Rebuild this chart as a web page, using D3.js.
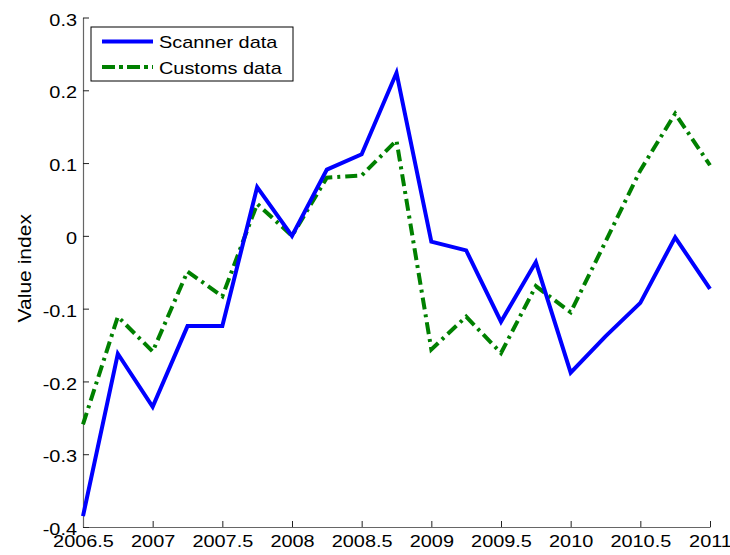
<!DOCTYPE html>
<html>
<head>
<meta charset="utf-8">
<script src="https://cdn.jsdelivr.net/npm/d3@7"></script>
<style>
  body { margin: 0; background: #fff; }
  text { font-family: "Liberation Sans", Arial, sans-serif; fill: #000; }
</style>
</head>
<body>
<div id="chart"></div>
<script>
// quarterly observations
var quarters = [2006.5, 2006.75, 2007, 2007.25, 2007.5, 2007.75, 2008, 2008.25, 2008.5,
    2008.75, 2009, 2009.25, 2009.5, 2009.75, 2010, 2010.25, 2010.5, 2010.75, 2011];
var scanner = [-0.385, -0.162, -0.235, -0.124, -0.124, 0.067, 0.0, 0.091, 0.112,
    0.224, -0.008, -0.020, -0.118, -0.036, -0.188, -0.138, -0.092, -0.002, -0.073];
var customs = [-0.259, -0.111, -0.159, -0.049, -0.083, 0.044, 0.0, 0.080, 0.083,
    0.131, -0.156, -0.111, -0.161, -0.069, -0.105, -0.008, 0.090, 0.168, 0.097];
var xTicks = [2006.5, 2007, 2007.5, 2008, 2008.5, 2009, 2009.5, 2010, 2010.5, 2011];
var yTicks = [-0.4, -0.3, -0.2, -0.1, 0, 0.1, 0.2, 0.3];
var seriesNames = ["Scanner data", "Customs data"];

var W = 730, H = 555;
var margin = {left: 83, right: 20, top: 17.5, bottom: 28};
var stretch = 1.17;   // matlab export text looks wider than Arial

var svg = d3.select("#chart").append("svg")
    .attr("width", W)
    .attr("height", H);

var x = d3.scaleLinear().domain([2006.5, 2011]).range([margin.left, W - margin.right]);
var y = d3.scaleLinear().domain([-0.4, 0.3]).range([H - margin.bottom, margin.top]);

var fmtY = function(d) { return d === 0 ? "0" : d3.format(".1f")(d).replace("\u2212", "-"); };

// axes, ticks pointing inward like matlab
var xAxis = svg.append("g")
    .attr("transform", "translate(0," + y(-0.4) + ")")
    .call(d3.axisBottom(x).tickValues(xTicks).tickSize(-6).tickSizeOuter(0).tickPadding(8)
        .tickFormat(function(d) { return String(d); }));
var yAxis = svg.append("g")
    .attr("transform", "translate(" + x(2006.5) + ",0)")
    .call(d3.axisLeft(y).tickValues(yTicks).tickSize(-6).tickSizeOuter(0).tickPadding(6)
        .tickFormat(fmtY));

[xAxis, yAxis].forEach(function(g) {
    g.select(".domain").attr("stroke", "#666").attr("stroke-width", 1.2);
    g.selectAll(".tick line").attr("stroke", "#222");
    g.selectAll(".tick text")
        .style("font-size", "17px")
        .attr("fill", "#000")
        .attr("transform", "scale(" + stretch + ",1)");
});
yAxis.selectAll(".tick text").attr("x", -6 / stretch).attr("dy", "0.45em");

svg.append("text")
    .attr("transform", "translate(31," + ((y(0.3) + y(-0.4)) / 2 - 4) + ") rotate(-90) scale(" + stretch + ",1)")
    .attr("text-anchor", "middle")
    .style("font-size", "18px")
    .text("Value index");

var line = function(values) {
    return d3.line()
        .x(function(d, i) { return x(quarters[i]); })
        .y(function(d) { return y(d); })(values);
};

svg.append("path")
    .attr("d", line(customs))
    .attr("fill", "none")
    .attr("stroke", "#008000")
    .attr("stroke-width", 4)
    .attr("stroke-dasharray", "12,5,3,5");

svg.append("path")
    .attr("d", line(scanner))
    .attr("fill", "none")
    .attr("stroke", "#0000ff")
    .attr("stroke-width", 4);

// legend
var legend = svg.append("g").attr("transform", "translate(91,27)");
legend.append("rect")
    .attr("width", 202).attr("height", 54)
    .attr("fill", "#fff").attr("stroke", "#000").attr("stroke-width", 1);
var styles = [
    {color: "#0000ff", dash: null},
    {color: "#008000", dash: "13,4,4,4"}
];
seriesNames.forEach(function(name, i) {
    var ly = 14.5 + i * 25.5;
    legend.append("line")
        .attr("x1", 11).attr("x2", 62)
        .attr("y1", ly).attr("y2", ly)
        .attr("stroke", styles[i].color)
        .attr("stroke-width", 4)
        .attr("stroke-dasharray", styles[i].dash);
    legend.append("text")
        .attr("transform", "translate(68," + (ly + 6.5) + ") scale(" + stretch + ",1)")
        .style("font-size", "17px")
        .text(name);
});
</script>
</body>
</html>
